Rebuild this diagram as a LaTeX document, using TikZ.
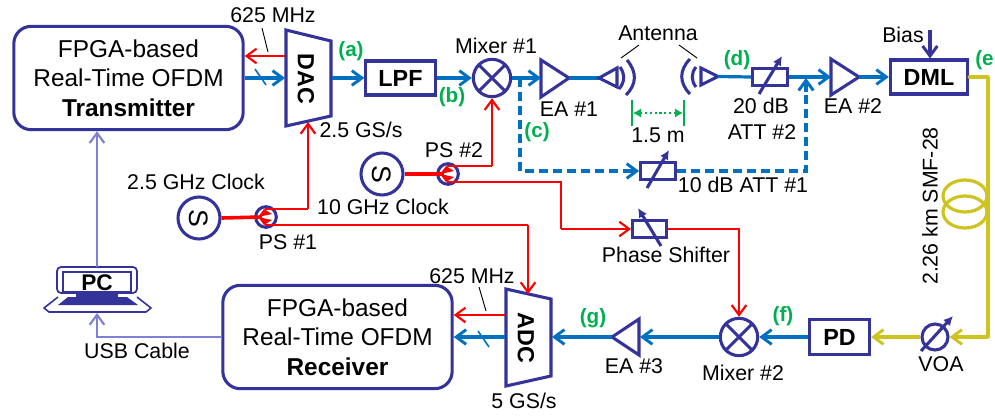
\documentclass[tikz,border=0pt]{standalone}
\usepackage{fontspec}
\setmainfont{Liberation Sans}
\usetikzlibrary{arrows.meta,calc}
\definecolor{navy}{HTML}{333399}
\definecolor{cblue}{HTML}{0070C0}
\definecolor{cred}{HTML}{FF0000}
\definecolor{cyel}{HTML}{CFC31F}
\definecolor{cgrn}{HTML}{00B050}
\definecolor{cvio}{HTML}{8080D5}
\tikzset{x=0.75pt,y=-0.75pt,
 txt/.style={font=\fontsize{16}{19}\selectfont,inner sep=0pt,align=center},
 lab/.style={font=\fontsize{15.5}{18}\selectfont\bfseries,text=cgrn,inner sep=0pt},
 shp/.style={draw=navy,line width=2.3pt,fill=white,line join=miter},
 roundbox/.style={draw=navy,line width=2.3pt,rounded corners=13pt,minimum width=172pt,minimum height=77.5pt,inner sep=0pt,align=center,font=\fontsize{18.3}{22}\selectfont},
 bx/.style={draw=navy,line width=2.3pt,fill=white,inner sep=0pt,font=\fontsize{17.5}{20}\selectfont\bfseries},
 circ/.style={draw=navy,line width=2.3pt,fill=white,circle,inner sep=0pt},
 tip/.style={-{Straight Barb[length=7.5pt,width=11pt,line width=1.6pt]}},
 tipb/.style={-{Straight Barb[length=7.5pt,width=11pt,line width=2.2pt]}},
 blue/.style={draw=cblue,line width=2.4pt,tipb},
 rd/.style={draw=cred,line width=1.7pt,tip},
 yel/.style={draw=cyel,line width=2.4pt},
 vio/.style={draw=cvio,line width=1.8pt},
 dsh/.style={draw=cblue,line width=2.4pt,dash pattern=on 6.5pt off 4pt},
 adj/.style={draw=navy,line width=2.3pt,-{Latex[length=7pt,width=7pt]}},
 attbox/.style={draw=navy,line width=2.3pt,fill=white,minimum width=26pt,minimum height=12.5pt,inner sep=0pt},
 leader/.style={line width=.7pt},
}
\newcommand{\mixcross}[2]{\draw[navy,line width=2.3pt] (#1,#2) ++(-14,-14) -- ++(28,28) (#1,#2) ++(14,-14) -- ++(-28,28);}
\begin{document}
\begin{tikzpicture}
\useasboundingbox (0,0) rectangle (995,418);
% boxes
\node[roundbox] (tx) at (128.5,78) {FPGA-based\\Real-Time OFDM\\\textbf{Transmitter}};
\node[roundbox] (rx) at (337.5,337) {FPGA-based\\Real-Time OFDM\\\textbf{Receiver}};
\node[bx,minimum width=52pt,minimum height=25.5pt] (lpf) at (400.5,78) {LPF};
\node[bx,minimum width=58pt,minimum height=25.5pt] (dml) at (929,77) {DML};
\node[bx,minimum width=45pt,minimum height=26pt] (pd) at (839.5,337) {PD};
% DAC / ADC
\draw[shp] (286,30) -- (331,41) -- (331,116) -- (286,126) -- cycle;
\node[rotate=-90,font=\fontsize{17.5}{20}\selectfont\bfseries,inner sep=0pt] (dac) at (306,79) {DAC};
\draw[shp] (506,289) -- (551,299) -- (551,376) -- (506,386) -- cycle;
\node[rotate=-90,font=\fontsize{17.5}{20}\selectfont\bfseries,inner sep=0pt] (adc) at (526,338) {ADC};
\coordinate (dacl1) at (285,56); \coordinate (dacl2) at (285,78); \coordinate (dacr) at (332,78); \coordinate (dacb) at (308,122);
\coordinate (adcr) at (552,337); \coordinate (adcl1) at (505,315); \coordinate (adcl2) at (505,337); \coordinate (adct) at (528,294);
% TX / DAC links
\draw[rd] (dacl1) -- (tx.east|-dacl1);
\draw[blue] (tx.east|-dacl2) -- (dacl2);
\draw[cblue,line width=1.2pt] (255,69) -- (266,85);
\draw[leader] (262,28) -- (268,52);
\node[txt] (m625a) at (273,15) {625 MHz};
% RX / ADC links
\draw[rd] (adcl1) -- (rx.east|-adcl1);
\draw[blue] (adcl2) -- (rx.east|-adcl2);
\draw[cblue,line width=1.2pt] (478,331) -- (489,347);
\draw[leader] (479,287) -- (486,311);
\node[txt] (m625b) at (472,276) {625 MHz};
% upper chain
\draw[blue] (dacr) -- (lpf.west);
\node[circ,minimum size=28pt] (mx1) at (492,78) {};
\mixcross{492}{78}
\draw[blue] (lpf.east) -- (mx1.west);
\draw[shp] (541,60) -- (569,78) -- (541,97) -- cycle;
\coordinate (ea1in) at (541,78); \coordinate (ea1out) at (569,78);
\draw[blue] (mx1.east) -- (ea1in);
\draw[cblue,line width=2.4pt] (ea1out) -- (599,78);
% antennas
\draw[shp] (599,78) -- (617,68) -- (617,87) -- cycle;
\draw[navy,line width=2.3pt] (620,67) .. controls (625,74) and (625,82) .. (619,89);
\draw[navy,line width=2.3pt] (627,60) .. controls (637,72) and (637,84) .. (626,95);
\draw[shp] (718,76.5) -- (701,68) -- (701,85) -- cycle;
\draw[navy,line width=2.3pt] (696,67) .. controls (691,73) and (691,81) .. (696,87);
\draw[navy,line width=2.3pt] (690,59) .. controls (679,70) and (679,83) .. (690,94);
\node[txt] (ant) at (658,33) {Antenna};
\draw[leader] (621,58) -- (639,45);
\draw[leader] (679,45) -- (697,58);
% distance
\draw[cgrn,line width=1.5pt] (632,100) -- (632,126);
\draw[cgrn,line width=1.5pt] (684,100) -- (684,126);
\draw[cgrn,line width=1.6pt,dotted,{Latex[length=6pt,width=7pt]}-{Latex[length=6pt,width=7pt]}] (633,113) -- (683,113);
\node[txt] (d15) at (658,135) {1.5 m};
% ATT2
\node[attbox] (att2) at (770,77) {};
\draw[cblue,line width=2.4pt] (718,76.5) -- (att2.west);
\draw[adj] (759,94) -- (782,56);
\draw[shp] (831,59) -- (859,77) -- (831,95) -- cycle;
\draw[blue] (att2.east) -- (831,77);
\draw[blue] (859,77) -- (dml.west);
\draw[navy,line width=2.4pt,tipb] (930,30) -- (dml.north-|930,58);
\node[txt] (bias) at (903,35) {Bias};
% dashed branch
\node[attbox] (att1) at (658,171) {};
\draw[adj] (647,188) -- (669,150);
\coordinate (dtop) at (520,78);
\draw[dsh] (dtop) -- (520,171) -- (628,171);
\draw[blue] (628,171) -- (att1.west);
\draw[dsh] (att1.east) -- (806,171) -- (806,92);
\draw[blue] (806,92) -- (806,78);
% clocks
\node[circ,minimum size=31.5pt] (s2) at (382,174) {};
\node[rotate=-90,font=\fontsize{20}{22}\selectfont,inner sep=0pt] at (s2) {S};
\node[circ,minimum size=31.5pt] (s1) at (199,218) {};
\node[rotate=-90,font=\fontsize{20}{22}\selectfont,inner sep=0pt] at (s1) {S};
\node[circ,minimum size=15.5pt] (ps2) at (448,174) {};
\node[circ,minimum size=15.5pt] (ps1) at (266,217) {};
\draw[rd,-] (447,166) -- (492,166);
\draw[rd] (492,166) -- (mx1.south);
\draw[rd,-] (447,182) -- (561,182) -- (561,229);
\draw[rd] (561,229) -- (631,229);
\draw[rd,-] (265,209) -- (308,209);
\draw[rd] (308,209) -- (dacb);
\draw[rd,-] (265,225) -- (528,225);
\draw[rd] (528,225) -- (adct);
\draw[cred,line width=2.7pt] (s2.east) -- ($(ps2.center)+(-4,0)$);
\draw[cred,line width=2.7pt] (s1.east) -- ($(ps1.center)+(-4,0)$);
\foreach \n in {ps2,ps1}{
 \fill[cred] (\n) ++(-8,0) -- ++(6,-8) -- ++(8,5) -- cycle;
 \fill[cred] (\n) ++(-8,0) -- ++(6,8) -- ++(8,-5) -- cycle;
}
% phase shifter
\node[attbox] (phs) at (649.5,229) {};
\draw[adj] (661,246) -- (638,208);
\node[circ,minimum size=28pt] (mx2) at (739,337) {};
\mixcross{739}{337}
\draw[rd] (phs.east) -- (739,229) -- (mx2.north);
% lower chain
\draw[blue] (pd.west) -- (mx2.east);
\draw[shp] (612,337) -- (639,319) -- (639,355) -- cycle;
\draw[blue] (mx2.west) -- (640,337);
\draw[blue] (612,337) -- (adcr);
% yellow
\node[circ,minimum size=19.5pt] (voa) at (935,337) {};
\draw[adj] (921,351) -- (953,316);
\draw[yel,line cap=round,line join=round] (dml.east) -- (988,77) -- (988,337);
\draw[yel,tipb] (988,337) -- (voa.east);
\draw[yel,tipb] (voa.west) -- (pd.east);
\draw[yel] (965,196) ellipse[x radius=22,y radius=16];
\draw[yel] (965,212) ellipse[x radius=22,y radius=16];
% labels
\node[lab] at (351,51) {(a)};
\node[lab] at (452,97) {(b)};
\node[lab] at (537,132) {(c)};
\node[lab] at (737,60) {(d)};
\node[lab,anchor=west] at (975,60) {(e};
\node[lab] at (783,316) {(f)};
\node[lab] at (593,318) {(g)};
% texts
\node[txt] at (496,46) {Mixer \#1};
\node[txt] at (569,109) {EA \#1};
\node[txt] at (361,130) {2.5 GS/s};
\node[txt] at (196,182) {2.5 GHz Clock};
\node[txt] at (383,207) {10 GHz Clock};
\node[txt] at (454,150) {PS \#2};
\node[txt] at (288,242) {PS \#1};
\node[txt] at (761,106) {20 dB};
\node[txt] at (762,132) {ATT \#2};
\node[txt] at (853,106) {EA \#2};
\node[txt] at (743,185) {10 dB ATT \#1};
\node[txt] at (666,255) {Phase Shifter};
\node[txt] at (743,373) {Mixer \#2};
\node[txt] at (634,366) {EA \#3};
\node[txt] at (524,401) {5 GS/s};
\node[txt] at (941,364) {VOA};
\node[txt] at (137,351) {USB Cable};
\node[txt,rotate=90] at (930,206) {2.26 km SMF-28};
% laptop
\draw[navy,line width=1.3pt,rounded corners=3pt] (57,293) -- (57,267) -- (137,267) -- (137,293) -- cycle;
\draw[navy,line width=1.3pt] (63,272) rectangle (131,292);
\node[font=\fontsize{17}{18}\selectfont\bfseries,inner sep=0pt] (pc) at (97,283) {PC};
\coordinate (pctop) at (97,267);
\coordinate (pcbot) at (97,313);
\draw[navy,line width=1.2pt,line join=round] (58,297) -- (44,308) -- (49,312) -- (146,312) -- (151,308) -- (137,297);
\fill[navy] (68,297) -- (127,297) -- (138,305) -- (58,305) -- cycle;
\fill[navy] (76,294) rectangle (118,297);
\draw[vio,tip] (pctop) -- (tx.south-|pctop);
\draw[vio,tip] (rx.west) -- (97,337) -- (pcbot);
\end{tikzpicture}
\end{document}
